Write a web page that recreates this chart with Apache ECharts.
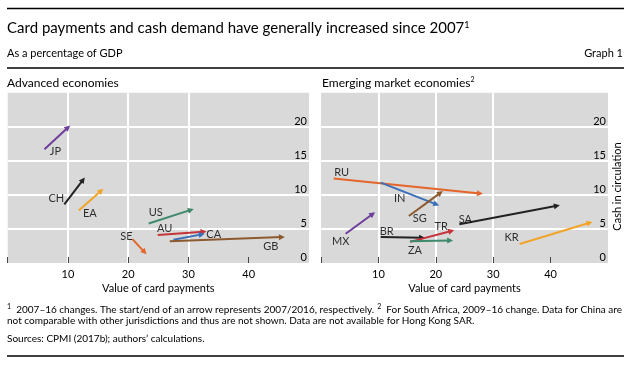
<!DOCTYPE html>
<html>
<head>
<meta charset="utf-8">
<script src="https://cdn.jsdelivr.net/npm/echarts@6/dist/echarts.min.js"></script>
<style>
html,body{margin:0;padding:0;background:#fff;}
#c{width:637px;height:368px;}
</style>
</head>
<body>
<div id="c"></div>
<script>
// ---- Data ----
const advCountries = ['JP', 'CH', 'EA', 'US', 'AU', 'CA', 'GB', 'SE'];
const advStartX = [6.1, 9.4, 11.8, 23.4, 24.9, 27.5, 26.9, 20.7];
const advStartY = [16.7, 8.6, 7.7, 5.8, 4.1, 3.4, 3.2, 3.5];
const advEndX = [10.0, 12.5, 15.5, 30.4, 32.5, 32.2, 45.5, 22.7];
const advEndY = [19.9, 12.2, 10.6, 7.8, 4.6, 4.2, 3.8, 1.6];

const emeCountries = ['RU', 'IN', 'SG', 'MX', 'BR', 'TR', 'ZA', 'SA', 'KR'];
const emeStartX = [2.2, 10.4, 15.3, 4.3, 10.4, 15.5, 15.5, 24.1, 34.6];
const emeStartY = [12.4, 11.8, 6.9, 4.3, 3.8, 3.1, 3.2, 5.7, 2.8];
const emeEndX = [27.7, 20.1, 20.8, 9.0, 17.6, 22.7, 22.5, 41.1, 46.8];
const emeEndY = [10.2, 8.6, 10.3, 7.2, 3.7, 4.7, 3.3, 8.4, 5.9];

const xTickLabels = [10, 20, 30, 40];
const yTickLabels = [0, 5, 10, 15, 20];

// ---- Styles ----
const FONT = 'Lato, "Open Sans", sans-serif';
const advColors = ['#6e3f9a', '#222222', '#f2a42a', '#3f8a6c', '#c5343a', '#3b70b8', '#8c5a2e', '#e5652a'];
const emeColors = ['#e5652a', '#3b70b8', '#8c5a2e', '#6e3f9a', '#222222', '#c5343a', '#3f8a6c', '#222222', '#f2a42a'];
// label anchor ('s' start / 'e' end) and pixel offset
const advLabelStyle = [['s', 11, 2], ['s', -8, -6], ['s', 11, 3], ['s', 7, -11], ['s', 7, -7], ['e', 12, 0], ['e', -11, 9], ['s', -6, -3]];
const emeLabelStyle = [['s', 8, -6], ['s', 19, 16], ['s', 11, 2], ['s', -5, 8], ['s', 6, -6], ['e', -10, -5], ['s', 5, 9], ['s', 6, -5], ['s', -8, -6]];

function arrows(names, sx, sy, ex, ey, colors, idx) {
  return {
    type: 'lines', coordinateSystem: 'cartesian2d', xAxisIndex: idx, yAxisIndex: idx,
    symbol: ['none', 'triangle'], symbolSize: 6, silent: true,
    lineStyle: { width: 2, opacity: 1, curveness: 0 },
    data: names.map((n, i) => ({
      coords: [[sx[i], sy[i]], [ex[i], ey[i]]],
      lineStyle: { color: colors[i] }
    })),
    z: 3
  };
}
function labels(names, sx, sy, ex, ey, st, idx) {
  return {
    type: 'scatter', xAxisIndex: idx, yAxisIndex: idx, symbolSize: 1, silent: true,
    itemStyle: { color: 'rgba(0,0,0,0)' },
    label: { show: true, position: 'inside', formatter: p => p.name, fontFamily: FONT, fontSize: 11, color: '#000' },
    data: names.map((n, i) => ({
      name: n,
      value: st[i][0] === 's' ? [sx[i], sy[i]] : [ex[i], ey[i]],
      label: { offset: [st[i][1], st[i][2]] }
    })),
    z: 4
  };
}
function xAx(idx) {
  return {
    gridIndex: idx, type: 'value', min: 0, max: 50, interval: 10,
    axisLine: { show: false },
    axisTick: { show: true, inside: true, length: 6, customValues: [0, 10, 20, 30, 40], lineStyle: { color: '#444', width: 1 } },
    axisLabel: { customValues: xTickLabels, margin: 6, fontFamily: FONT, fontSize: 11, color: '#000' },
    splitLine: { show: true, showMinLine: false, showMaxLine: false, lineStyle: { color: '#fff', width: 2 } },
    name: 'Value of card payments', nameLocation: 'middle', nameGap: 20,
    nameTextStyle: { fontFamily: FONT, fontSize: 11, color: '#000' }
  };
}
function yAx(idx) {
  return {
    gridIndex: idx, type: 'value', position: 'right', min: 0, max: 25, interval: 5,
    axisLine: { show: false }, axisTick: { show: false },
    axisLabel: { inside: true, customValues: yTickLabels, margin: 2, verticalAlign: 'bottom', fontFamily: FONT, fontSize: 11, color: '#000' },
    splitLine: { show: true, showMinLine: false, showMaxLine: false, lineStyle: { color: '#fff', width: 2 } }
  };
}

const chart = echarts.init(document.getElementById('c'), null, { renderer: 'canvas' });
const txt = (x, y, rich, opts) => Object.assign({
  type: 'text', x: x, y: y,
  style: Object.assign({ fontFamily: FONT, fill: '#000', verticalAlign: 'middle', align: 'left' }, rich)
}, opts || {});
const supRich = (size) => ({ sup: { fontSize: size, verticalAlign: 'top', padding: [0, 0, size * 0.7, 0], fontFamily: FONT } });

chart.setOption({
  animation: false,
  backgroundColor: '#fff',
  grid: [
    { left: 7.7, top: 92.7, width: 301.3, height: 170.3, show: true, backgroundColor: '#d9d9d9', borderWidth: 0 },
    { left: 321, top: 92.7, width: 287, height: 170.3, show: true, backgroundColor: '#d9d9d9', borderWidth: 0 }
  ],
  xAxis: [xAx(0), xAx(1)],
  yAxis: [yAx(0), yAx(1)],
  series: [
    arrows(advCountries, advStartX, advStartY, advEndX, advEndY, advColors, 0),
    arrows(emeCountries, emeStartX, emeStartY, emeEndX, emeEndY, emeColors, 1),
    labels(advCountries, advStartX, advStartY, advEndX, advEndY, advLabelStyle, 0),
    labels(emeCountries, emeStartX, emeStartY, emeEndX, emeEndY, emeLabelStyle, 1)
  ],
  graphic: [
    { type: 'line', shape: { x1: 7, y1: 8.5, x2: 624, y2: 8.5 }, style: { stroke: '#000', lineWidth: 1.5 } },
    { type: 'line', shape: { x1: 7, y1: 68, x2: 624, y2: 68 }, style: { stroke: '#000', lineWidth: 1.5 } },
    { type: 'line', shape: { x1: 7, y1: 356, x2: 624, y2: 356 }, style: { stroke: '#000', lineWidth: 1.5 } },
    txt(7, 28.5, { text: 'Card payments and cash demand have generally increased since 2007{sup|1}', fontSize: 15, rich: supRich(9) }),
    txt(7, 53.6, { text: 'As a percentage of GDP', fontSize: 11 }),
    txt(623, 53.6, { text: 'Graph 1', fontSize: 11, align: 'right' }),
    txt(7, 82.7, { text: 'Advanced economies', fontSize: 12 }),
    txt(322, 82.7, { text: 'Emerging market economies{sup|2}', fontSize: 12, rich: supRich(7) }),
    txt(617, 186.5, { text: 'Cash in circulation', fontSize: 11, align: 'center' }, { rotation: Math.PI / 2 }),
    txt(7, 309.5, { text: '{sup|1}  2007–16 changes. The start/end of an arrow represents 2007/2016, respectively.', fontSize: 10, rich: supRich(7) }),
    txt(622, 309.5, { text: '{sup|2}  For South Africa, 2009–16 change. Data for China are', fontSize: 10, align: 'right', rich: supRich(7) }),
    txt(7, 320.5, { text: 'not comparable with other jurisdictions and thus are not shown. Data are not available for Hong Kong SAR.', fontSize: 10 }),
    txt(7, 339, { text: 'Sources: CPMI (2017b); authors\u2019 calculations.', fontSize: 10 })
  ]
});
</script>
</body>
</html>
